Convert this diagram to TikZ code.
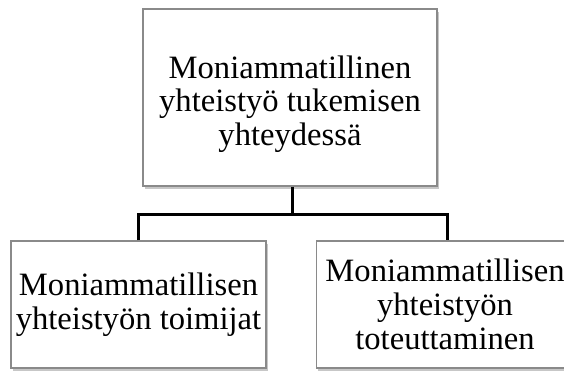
\documentclass[tikz,border=0pt]{standalone}
\usepackage{fontspec}
\setmainfont{Liberation Serif}
\usetikzlibrary{shadows}
\definecolor{boxgray}{HTML}{8A8A8A}
\begin{document}
\begin{tikzpicture}[x=1pt,y=-1pt,
  box/.style={draw=boxgray, line width=1.3pt, fill=white, inner sep=0pt,
    align=center, font=\fontsize{32.6}{33.8}\selectfont,
    drop shadow={shadow xshift=2pt, shadow yshift=-3pt, fill=black, opacity=0.22}},
  conn/.style={line width=3pt, black, line join=miter}]
\useasboundingbox (0,0) rectangle (564,370);
\node[box, minimum width=294pt, minimum height=177pt] (top) at (290,97.5)
  {\rule{0pt}{36pt}Moniammatillinen\\yhteistyö tukemisen\\yhteydessä};
\node[box, minimum width=255pt, minimum height=127pt] (left) at (138.5,304.5)
  {Moniammatillisen\\yhteistyön toimijat};
\node[box, minimum width=243pt, minimum height=127pt] (right) at (440.5,304.5)
  {\hspace*{9pt}Moniammatillisen\\\hspace*{9pt}yhteistyön\\\hspace*{9pt}toteuttaminen};
\coordinate (j) at (292,214);
\draw[conn] (top.south -| j) -- (j);
\draw[conn] (left.north) |- (j) -| ([xshift=6.5pt]right.north);
\end{tikzpicture}
\end{document}
